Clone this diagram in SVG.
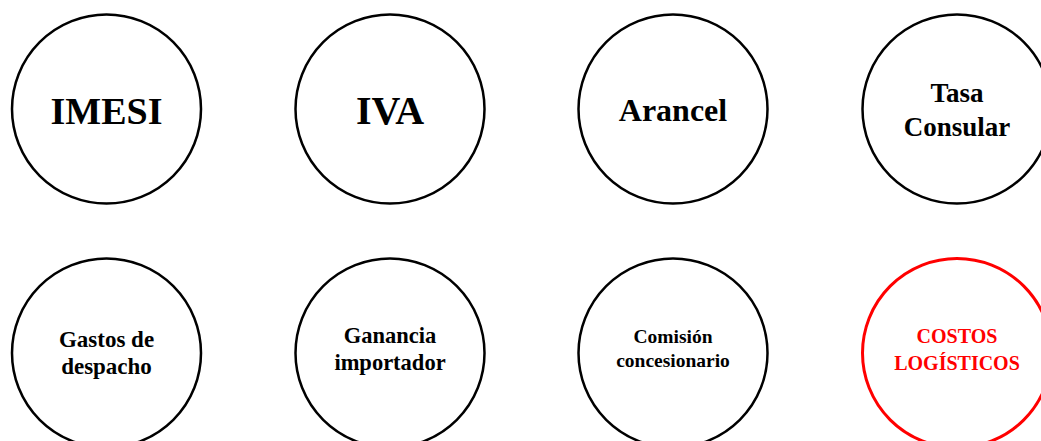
<svg xmlns="http://www.w3.org/2000/svg" width="1041" height="441" viewBox="0 0 1041 441">
<style>
.c{fill:#fff;stroke:#000;stroke-width:2.5}
.r{fill:#fff;stroke:#f00;stroke-width:3}
text{font-family:"Liberation Serif","DejaVu Serif",serif;font-weight:bold;text-anchor:middle;fill:#000}
.red{fill:#f00}
</style>
<rect width="1041" height="441" fill="#fff"/>
<g id="imesi"><circle class="c" cx="106.5" cy="109" r="94.5"/><text x="106.5" y="124" font-size="38">IMESI</text></g>
<g id="iva"><circle class="c" cx="390" cy="109" r="94.5"/><text x="390" y="124" font-size="40">IVA</text></g>
<g id="arancel"><circle class="c" cx="673" cy="109" r="94.5"/><text x="673" y="121" font-size="32">Arancel</text></g>
<g id="tasa"><circle class="c" cx="957" cy="109" r="94.5"/><text x="957" y="102" font-size="27">Tasa</text><text x="957" y="136" font-size="27">Consular</text></g>
<g id="gastos"><circle class="c" cx="106.5" cy="353" r="94.5"/><text x="106.5" y="347" font-size="23">Gastos de</text><text x="106.5" y="374" font-size="23">despacho</text></g>
<g id="ganancia"><circle class="c" cx="390" cy="353" r="94.5"/><text x="390" y="343" font-size="22.5">Ganancia</text><text x="390" y="370" font-size="22.5">importador</text></g>
<g id="comision"><circle class="c" cx="673" cy="353" r="94.5"/><text x="673" y="343" font-size="19.5">Comisión</text><text x="673" y="367" font-size="19.5">concesionario</text></g>
<g id="costos"><circle class="r" cx="957" cy="353" r="94.5"/><text class="red" x="957" y="343" font-size="20">COSTOS</text><text class="red" x="957" y="370" font-size="20">LOGÍSTICOS</text></g>
<g id="connectors"/>
</svg>
